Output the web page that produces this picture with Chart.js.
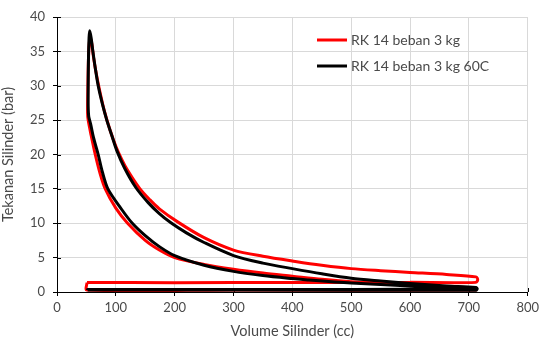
<!DOCTYPE html>
<html>
<head>
<meta charset="utf-8">
<script src="https://cdn.jsdelivr.net/npm/chart.js@4"></script>
<style>
  html, body { margin: 0; padding: 0; background: #fff; }
  #wrap { width: 543px; height: 340px; }
</style>
</head>
<body>
<div id="wrap"><canvas id="pv"></canvas></div>
<script>
// RK 14 beban 3 kg
const redVolume = [51, 51, 300, 712, 712,
  700, 662, 600, 500, 450, 400, 350, 300, 250, 200, 174, 150, 120, 100, 82, 73, 65, 58, 53, 52,
  52.5, 53.5, 55, 56.7, 59, 62, 66, 71, 80, 90, 100, 110, 120, 141, 158, 174, 205, 250, 300, 350, 405, 450, 500, 550, 600, 662, 712,
  715, 712, 600, 400, 200, 51];
const redPressure = [1.4, 0.3, 0.3, 0.3, 0.6,
  0.65, 0.77, 1.1, 1.5, 1.85, 2.3, 2.75, 3.3, 4.0, 5.0, 6.1, 7.5, 10, 12.2, 15, 17.3, 20, 22.8, 25, 26,
  30, 34, 36.3, 36.9, 36.2, 34.2, 32.1, 29.9, 26.5, 23.6, 21.2, 19.3, 17.7, 15.0, 13.4, 12.1, 10.2, 7.9, 6.1, 5.2, 4.45, 3.9, 3.4, 3.1, 2.85, 2.55, 2.2,
  1.8, 1.4, 1.4, 1.38, 1.36, 1.4];

// RK 14 beban 3 kg 60C
const blackVolume = [52, 300, 712, 714,
  700, 662, 600, 500, 426, 400, 350, 300, 250, 200, 174, 150, 128, 110, 86.5, 77, 70, 62, 57, 54, 53,
  53, 53.5, 54.5, 55.6, 58, 61, 65, 70, 77, 85, 93, 101.5, 115, 134, 155, 174, 193, 220, 250, 300, 350, 400, 450, 500, 550, 600, 662, 712,
  714, 600, 400, 200, 52, 52];
const blackPressure = [0.3, 0.3, 0.25, 0.5,
  0.45, 0.6, 0.87, 1.3, 1.75, 1.95, 2.4, 3.0, 3.9, 5.3, 6.6, 8.2, 10, 12, 15, 17.5, 20, 22.5, 24.5, 25.5, 27,
  30, 34, 37, 38, 37, 35, 32.6, 30, 27.4, 24.9, 22.8, 20.6, 18.0, 15.2, 13.0, 11.4, 10.1, 8.6, 7.2, 5.3, 4.2, 3.4, 2.65, 2.0, 1.6, 1.25, 0.87, 0.65,
  0.45, 0.4, 0.35, 0.35, 0.35, 0.3];

const seriesLabels = ['RK 14 beban 3 kg', 'RK 14 beban 3 kg 60C'];
const xTicks = [0, 100, 200, 300, 400, 500, 600, 700, 800];
const yTicks = [0, 5, 10, 15, 20, 25, 30, 35, 40];

const toPoints = (xs, ys) => xs.map((x, i) => ({ x: x, y: ys[i] }));

const FONT = 'Lato, "Liberation Sans", sans-serif';
const TEXT = '#4a4a4a';

// legend drawn inside the plot area, like the original
const innerLegend = {
  id: 'innerLegend',
  afterDraw(chart) {
    const ctx = chart.ctx;
    const area = chart.chartArea;
    ctx.save();
    ctx.font = '14px ' + FONT;
    ctx.textBaseline = 'middle';
    ctx.lineWidth = 3;
    chart.data.datasets.forEach((ds, i) => {
      const y = area.top + 23 + i * 26;
      const x = area.left + 260;
      ctx.strokeStyle = ds.borderColor;
      ctx.beginPath();
      ctx.moveTo(x, y);
      ctx.lineTo(x + 30, y);
      ctx.stroke();
      ctx.fillStyle = TEXT;
      ctx.fillText(ds.label, x + 34, y);
    });
    ctx.restore();
  }
};

// short inner tick marks so ticks cross the axes
const crossTicks = {
  id: 'crossTicks',
  beforeDatasetsDraw(chart) {
    const ctx = chart.ctx;
    const xs = chart.scales.x, ys = chart.scales.y;
    ctx.save();
    ctx.strokeStyle = '#000';
    ctx.lineWidth = 1;
    ctx.beginPath();
    xTicks.forEach(v => {
      const px = Math.round(xs.getPixelForValue(v)) + 0.5;
      ctx.moveTo(px, ys.bottom);
      ctx.lineTo(px, ys.bottom - 4);
    });
    yTicks.forEach(v => {
      const py = Math.round(ys.getPixelForValue(v)) + 0.5;
      ctx.moveTo(xs.left, py);
      ctx.lineTo(xs.left + 4, py);
    });
    ctx.stroke();
    ctx.restore();
  }
};

new Chart(document.getElementById('pv'), {
  type: 'scatter',
  data: {
    datasets: [{
      label: seriesLabels[0],
      data: toPoints(redVolume, redPressure),
      showLine: true,
      borderColor: '#ff0000',
      backgroundColor: '#ff0000',
      borderWidth: 3,
      pointRadius: 0,
      tension: 0.3,
      order: 1
    }, {
      label: seriesLabels[1],
      data: toPoints(blackVolume, blackPressure),
      showLine: true,
      borderColor: '#000000',
      backgroundColor: '#000000',
      borderWidth: 3,
      pointRadius: 0,
      tension: 0.3,
      order: 0
    }]
  },
  options: {
    responsive: true,
    maintainAspectRatio: false,
    animation: false,
    layout: { padding: { top: 17, right: 12, left: 0, bottom: 0 } },
    plugins: {
      legend: { display: false },
      tooltip: { enabled: false }
    },
    scales: {
      x: {
        type: 'linear',
        min: 0,
        max: 800,
        afterBuildTicks: s => { s.ticks = xTicks.map(v => ({ value: v })); },
        afterFit: s => { s.height = 48; },
        grid: { color: '#d9d9d9', tickColor: '#000', tickLength: 4 },
        border: { color: '#000', width: 1 },
        ticks: { color: TEXT, font: { family: FONT, size: 13 }, padding: 4, maxRotation: 0 },
        title: { display: true, text: 'Volume Silinder (cc)', color: TEXT, font: { family: FONT, size: 14.5 }, padding: 0 }
      },
      y: {
        type: 'linear',
        min: 0,
        max: 40,
        afterBuildTicks: s => { s.ticks = yTicks.map(v => ({ value: v })); },
        afterFit: s => { s.width = 57; },
        grid: { color: '#d9d9d9', tickColor: '#000', tickLength: 4 },
        border: { color: '#000', width: 1 },
        ticks: { color: TEXT, font: { family: FONT, size: 13 }, padding: 8 },
        title: { display: true, text: 'Tekanan Silinder (bar)', color: TEXT, font: { family: FONT, size: 14.5 }, padding: 0 }
      }
    }
  },
  plugins: [crossTicks, innerLegend]
});
</script>
</body>
</html>
